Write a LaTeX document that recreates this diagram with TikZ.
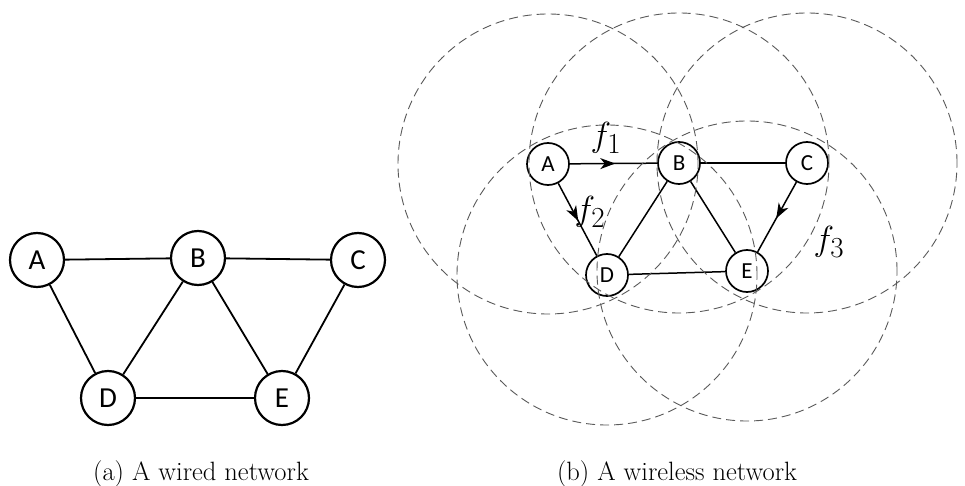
\documentclass[tikz,border=0pt]{standalone}
\usepackage{fontspec}
\usepackage{graphicx}
\newfontfamily\nodefont{Carlito}
\usetikzlibrary{arrows.meta,decorations.markings}
\newcommand{\flowtxt}[1]{\scalebox{1.4}{$#1$}}
\begin{document}
\begin{tikzpicture}[x=1pt,y=-1pt,
  wirednode/.style={circle, draw, line width=2.2pt, minimum size=54pt, inner sep=0pt,
    font=\nodefont\fontsize{29}{34}\selectfont},
  wirededge/.style={line width=1.8pt},
  wlnode/.style={circle, draw, line width=1.7pt, minimum size=42pt, inner sep=0pt,
    font=\nodefont\fontsize{23}{28}\selectfont},
  wledge/.style={line width=1.5pt},
  flow/.style={wledge, postaction={decorate},
    decoration={markings, mark=at position 0.52 with {\arrow{Stealth[length=15pt,width=11pt,inset=4.5pt]}}}},
  txrange/.style={dash pattern=on 9pt off 5pt, draw=black!65, line width=0.9pt},
  flowlabel/.style={font=\fontsize{24.88}{30}\selectfont, inner sep=0pt},
  figcaption/.style={font=\fontsize{26.5}{31}\selectfont, inner sep=0pt, anchor=base}
]
\useasboundingbox (0,0) rectangle (965,486);

% (a) wired network
\node[wirednode] (a1) at (37,260) {A};
\node[wirednode] (b1) at (198,258) {B};
\node[wirednode] (c1) at (358,260) {C};
\node[wirednode] (d1) at (108,398) {D};
\node[wirednode] (e1) at (282,398) {E};
\draw[wirededge] (a1) -- (b1);
\draw[wirededge] (b1) -- (c1);
\draw[wirededge] (a1) -- (d1);
\draw[wirededge] (b1) -- (d1);
\draw[wirededge] (b1) -- (e1);
\draw[wirededge] (c1) -- (e1);
\draw[wirededge] (d1) -- (e1);
\node[figcaption] (capa) at (201,480) {(a) A wired network};

% (b) wireless network
\node[wlnode] (a2) at (548,164) {A};
\node[wlnode] (b2) at (679,163) {B};
\node[wlnode] (c2) at (807,163) {C};
\node[wlnode] (d2) at (607,275) {D};
\node[wlnode] (e2) at (747,271) {E};
\draw[flow] (a2) -- (b2);
\draw[wledge] (b2) -- (c2);
\draw[flow] (a2) -- (d2);
\draw[wledge] (b2) -- (d2);
\draw[wledge] (b2) -- (e2);
\draw[flow] (c2) -- (e2);
\draw[wledge] (d2) -- (e2);
\foreach \n in {a2,b2,c2,d2,e2}
  \draw[txrange] (\n.center) circle[radius=150pt];
\node[flowlabel] (f1) at (606,138) {\flowtxt{f_1}};
\node[flowlabel] (f2) at (590,212) {\flowtxt{f_2}};
\node[flowlabel] (f3) at (829,242) {\flowtxt{f_3}};
\node[figcaption] (capb) at (677,480) {(b) A wireless network};
\end{tikzpicture}
\end{document}
